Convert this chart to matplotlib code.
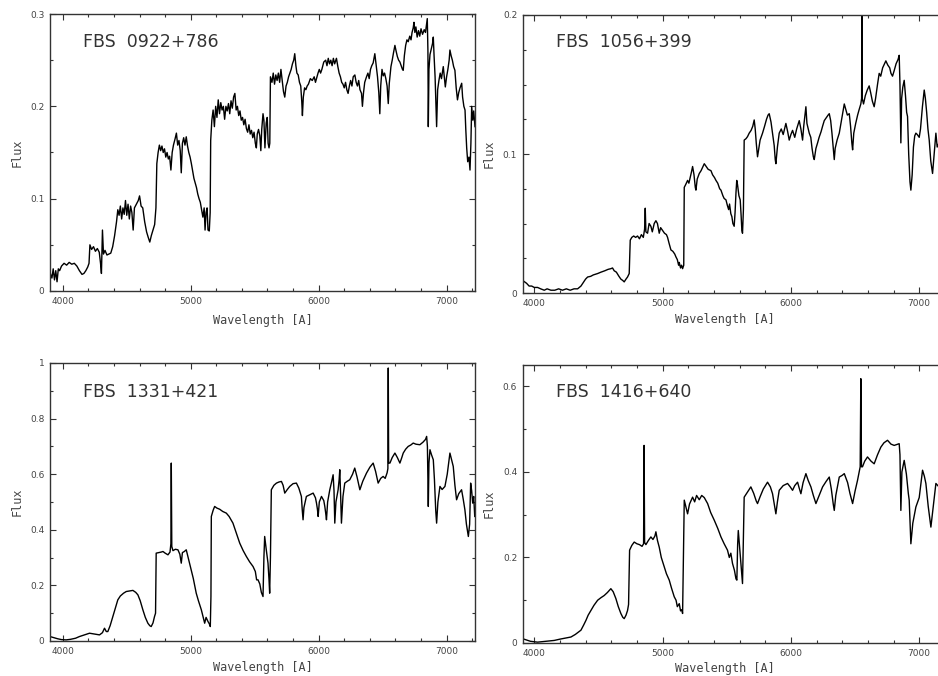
import matplotlib
matplotlib.use("Agg")
import matplotlib.pyplot as plt
from matplotlib.ticker import MultipleLocator

# ---------------- data ----------------
names = ["FBS  0922+786", "FBS  1056+399", "FBS  1331+421", "FBS  1416+640"]

wl1 = [3900,3915,3925,3935,3945,3955,3965,3975,3990,4010,4030,4050,4070,4090,4110,4130,4150,4165,4180,4195,
       4205,4212,4225,4240,4255,4270,4285,4295,4302,4310,4318,4330,4345,4360,4375,4390,4405,4420,4430,4440,
       4450,4460,4470,4480,4490,4500,4510,4520,4530,4540,4550,4560,4575,4590,4600,4612,4625,4640,4655,4668,
       4680,4692,4705,4718,4728,4735,4745,4755,4765,4775,4785,4795,4805,4815,4825,4835,4845,4855,4865,4878,
       4888,4898,4908,4918,4926,4935,4945,4955,4965,4975,4985,4995,5005,5015,5025,5035,5045,5055,5065,5075,
       5085,5095,5105,5112,5120,5128,5135,5145,5152,5156,5165,5175,5185,5195,5205,5215,5225,5235,5245,5255,
       5265,5275,5285,5295,5305,5315,5325,5335,5345,5355,5365,5375,5385,5395,5405,5415,5425,5435,5445,5455,
       5465,5475,5485,5495,5505,5513,5520,5530,5540,5548,5555,5565,5572,5580,5590,5598,5605,5612,5618,5623,
       5635,5645,5655,5665,5675,5685,5695,5705,5715,5725,5735,5745,5755,5765,5775,5785,5795,5805,5813,5822,
       5830,5840,5850,5860,5868,5873,5880,5890,5900,5910,5920,5935,5950,5965,5975,5983,5995,6005,6015,6025,
       6040,6055,6065,6075,6085,6095,6105,6115,6125,6139,6150,6160,6170,6180,6190,6200,6210,6220,6230,6240,
       6250,6260,6270,6283,6293,6303,6313,6323,6335,6342,6350,6360,6374,6385,6395,6405,6415,6426,6439,6450,
       6460,6470,6478,6485,6495,6505,6515,6525,6535,6544,6552,6565,6575,6585,6596,6605,6615,6625,6635,6645,
       6655,6661,6670,6680,6690,6700,6712,6722,6730,6739,6745,6752,6760,6770,6780,6790,6800,6812,6825,6835,
       6844,6849,6854,6857,6862,6870,6880,6890,6896,6902,6910,6916,6922,6930,6940,6950,6960,6974,6982,6990,
       7000,7010,7020,7026,7035,7045,7055,7065,7075,7085,7095,7105,7118,7125,7135,7144,7150,7157,7165,7175,
       7183,7190,7196,7205,7212,7222]
fx1 = [0.020,0.014,0.024,0.012,0.022,0.010,0.024,0.022,0.027,0.030,0.028,0.031,0.029,0.030,0.027,0.022,0.018,0.019,0.022,0.026,
       0.030,0.050,0.045,0.048,0.043,0.046,0.042,0.030,0.019,0.066,0.040,0.044,0.039,0.040,0.041,0.048,0.060,0.075,0.088,0.082,
       0.092,0.078,0.090,0.083,0.098,0.082,0.094,0.078,0.092,0.085,0.066,0.090,0.094,0.098,0.103,0.092,0.090,0.075,0.064,0.058,
       0.053,0.060,0.066,0.072,0.090,0.138,0.150,0.158,0.152,0.157,0.150,0.154,0.145,0.150,0.143,0.146,0.131,0.150,0.158,0.165,
       0.171,0.158,0.163,0.152,0.128,0.160,0.166,0.158,0.167,0.157,0.150,0.145,0.138,0.130,0.122,0.117,0.112,0.105,0.100,0.096,
       0.088,0.080,0.090,0.066,0.085,0.090,0.066,0.065,0.085,0.163,0.185,0.196,0.178,0.200,0.188,0.207,0.192,0.204,0.196,0.200,
       0.186,0.200,0.195,0.203,0.192,0.206,0.198,0.210,0.214,0.196,0.200,0.190,0.195,0.185,0.188,0.180,0.186,0.176,0.172,0.180,
       0.170,0.174,0.166,0.172,0.160,0.155,0.170,0.175,0.168,0.152,0.175,0.192,0.185,0.155,0.182,0.188,0.160,0.155,0.160,0.232,
       0.226,0.236,0.224,0.234,0.228,0.236,0.226,0.240,0.228,0.216,0.210,0.222,0.226,0.232,0.236,0.240,0.246,0.250,0.257,0.244,
       0.236,0.234,0.226,0.222,0.205,0.190,0.210,0.220,0.218,0.222,0.224,0.230,0.228,0.232,0.226,0.230,0.236,0.240,0.236,0.240,
       0.248,0.250,0.244,0.252,0.246,0.250,0.244,0.252,0.246,0.252,0.243,0.236,0.232,0.226,0.224,0.220,0.226,0.218,0.214,0.222,
       0.228,0.222,0.232,0.234,0.226,0.222,0.228,0.218,0.214,0.200,0.214,0.226,0.232,0.236,0.230,0.240,0.244,0.247,0.257,0.244,
       0.232,0.215,0.192,0.222,0.240,0.233,0.236,0.230,0.222,0.203,0.225,0.243,0.250,0.258,0.266,0.260,0.254,0.250,0.248,0.244,
       0.240,0.239,0.255,0.266,0.272,0.270,0.276,0.272,0.280,0.285,0.291,0.280,0.286,0.275,0.282,0.276,0.284,0.278,0.283,0.280,
       0.290,0.295,0.260,0.178,0.240,0.256,0.262,0.268,0.275,0.255,0.232,0.205,0.178,0.218,0.228,0.236,0.230,0.243,0.232,0.221,
       0.232,0.240,0.250,0.261,0.255,0.250,0.243,0.239,0.220,0.207,0.215,0.220,0.225,0.210,0.200,0.196,0.175,0.155,0.140,0.145,
       0.131,0.160,0.200,0.185,0.195,0.178]

wl2 = [3910,3925,3940,3960,3980,4000,4026,4050,4078,4100,4130,4160,4190,4220,4250,4280,4310,4338,4364,4385,
       4400,4416,4440,4460,4494,4520,4550,4575,4597,4610,4623,4640,4660,4675,4690,4701,4715,4727,4740,4748,
       4760,4775,4790,4805,4820,4835,4850,4860,4865,4870,4883,4895,4909,4920,4935,4948,4960,4974,4985,5000,
       5015,5030,5039,5050,5065,5080,5095,5104,5115,5125,5130,5140,5148,5156,5165,5169,5180,5195,5205,5215,
       5225,5234,5245,5255,5260,5270,5286,5300,5310,5325,5340,5355,5377,5390,5405,5416,5430,5445,5455,5470,
       5480,5494,5505,5515,5522,5532,5540,5548,5558,5565,5572,5578,5584,5595,5605,5612,5618,5623,5630,5636,
       5650,5662,5675,5690,5703,5714,5722,5730,5740,5750,5760,5779,5795,5810,5822,5831,5845,5857,5870,5878,
       5883,5895,5909,5925,5940,5961,5975,5987,6000,6013,6030,6045,6065,6078,6091,6100,6110,6117,6125,6135,
       6143,6155,6165,6175,6182,6195,6208,6220,6235,6247,6260,6275,6290,6299,6310,6320,6330,6338,6345,6360,
       6377,6390,6405,6416,6428,6440,6455,6465,6475,6481,6490,6505,6520,6532,6545,6551,6553,6556,6566,6580,
       6595,6610,6622,6635,6649,6660,6675,6688,6700,6715,6730,6740,6755,6770,6780,6792,6805,6820,6835,6844,
       6850,6857,6863,6872,6883,6893,6902,6909,6918,6928,6935,6945,6955,6965,6974,6985,7000,7010,7025,7039,
       7048,7058,7068,7078,7090,7104,7115,7130,7140,7153,7175,7220]
fx2 = [0.009,0.008,0.007,0.005,0.005,0.004,0.004,0.003,0.002,0.003,0.002,0.002,0.003,0.002,0.003,0.002,0.003,0.003,0.005,0.008,
       0.010,0.0115,0.012,0.013,0.014,0.015,0.016,0.017,0.0175,0.018,0.016,0.015,0.012,0.010,0.009,0.008,0.010,0.0115,0.014,0.038,
       0.040,0.041,0.040,0.041,0.039,0.042,0.040,0.046,0.061,0.044,0.043,0.050,0.048,0.044,0.050,0.052,0.050,0.043,0.047,0.045,
       0.043,0.042,0.040,0.036,0.031,0.030,0.028,0.026,0.024,0.020,0.022,0.018,0.020,0.0175,0.020,0.076,0.078,0.081,0.079,0.083,
       0.087,0.091,0.085,0.076,0.074,0.082,0.086,0.088,0.090,0.093,0.091,0.089,0.088,0.085,0.083,0.081,0.079,0.075,0.074,0.070,
       0.068,0.067,0.063,0.060,0.064,0.057,0.055,0.050,0.048,0.058,0.072,0.081,0.078,0.070,0.067,0.056,0.045,0.043,0.060,0.110,
       0.111,0.1125,0.115,0.117,0.120,0.1245,0.118,0.108,0.098,0.104,0.110,0.115,0.120,0.125,0.128,0.129,0.123,0.115,0.106,0.096,
       0.093,0.105,0.115,0.118,0.114,0.122,0.116,0.110,0.114,0.117,0.112,0.118,0.124,0.118,0.110,0.120,0.128,0.134,0.122,0.118,
       0.115,0.112,0.104,0.098,0.096,0.104,0.108,0.112,0.116,0.120,0.124,0.126,0.128,0.129,0.124,0.115,0.104,0.096,0.104,0.110,
       0.115,0.122,0.130,0.136,0.132,0.128,0.129,0.120,0.108,0.103,0.115,0.122,0.128,0.132,0.136,0.140,0.200,0.140,0.136,0.142,
       0.146,0.149,0.144,0.138,0.134,0.140,0.150,0.158,0.156,0.162,0.165,0.167,0.164,0.162,0.158,0.156,0.160,0.165,0.168,0.171,
       0.150,0.108,0.140,0.148,0.153,0.142,0.130,0.127,0.100,0.080,0.074,0.085,0.105,0.113,0.115,0.114,0.112,0.118,0.134,0.146,
       0.140,0.130,0.118,0.110,0.095,0.086,0.098,0.115,0.105,0.108,0.110,0.105]

wl3 = [3900,3930,3960,3990,4026,4060,4100,4130,4170,4209,4250,4287,4310,4326,4340,4352,4370,4391,4410,4430,
       4450,4475,4496,4520,4548,4570,4587,4605,4626,4645,4665,4680,4691,4705,4717,4725,4730,4750,4770,4783,
       4800,4822,4838,4845,4848,4852,4861,4880,4900,4915,4926,4935,4950,4965,4980,5004,5020,5043,5060,5083,
       5095,5109,5120,5135,5145,5153,5158,5161,5175,5187,5205,5226,5250,5278,5300,5330,5355,5383,5410,5435,
       5460,5487,5505,5515,5526,5540,5552,5565,5572,5578,5590,5604,5612,5617,5623,5630,5650,5670,5690,5709,
       5722,5735,5755,5774,5800,5826,5845,5865,5872,5878,5885,5904,5930,5957,5975,5983,5990,5996,6005,6022,
       6040,6048,6055,6061,6070,6087,6100,6113,6120,6126,6135,6152,6160,6165,6172,6178,6190,6204,6225,6243,
       6265,6282,6300,6322,6345,6374,6400,6426,6445,6465,6485,6504,6520,6535,6541,6544,6547,6557,6575,6596,
       6615,6635,6650,6661,6680,6700,6720,6739,6760,6791,6815,6835,6844,6850,6857,6862,6870,6882,6896,6905,
       6915,6922,6932,6948,6965,6987,7005,7026,7040,7052,7065,7078,7095,7117,7130,7143,7155,7170,7180,7188,
       7196,7204,7212,7220]
fx3 = [0.016,0.012,0.008,0.005,0.004,0.006,0.010,0.016,0.022,0.028,0.025,0.022,0.030,0.046,0.034,0.034,0.055,0.088,0.118,0.148,
       0.162,0.172,0.178,0.180,0.182,0.175,0.166,0.145,0.112,0.085,0.064,0.055,0.052,0.065,0.088,0.100,0.316,0.318,0.320,0.322,
       0.316,0.310,0.320,0.350,0.640,0.340,0.325,0.330,0.328,0.312,0.280,0.318,0.322,0.328,0.300,0.256,0.225,0.172,0.145,0.112,
       0.090,0.064,0.085,0.070,0.062,0.052,0.160,0.448,0.470,0.484,0.478,0.474,0.466,0.460,0.448,0.424,0.390,0.352,0.325,0.304,
       0.285,0.268,0.250,0.220,0.220,0.205,0.175,0.160,0.300,0.376,0.330,0.280,0.220,0.172,0.300,0.544,0.560,0.568,0.572,0.574,
       0.560,0.532,0.545,0.556,0.566,0.568,0.550,0.520,0.470,0.436,0.480,0.520,0.526,0.532,0.515,0.496,0.475,0.448,0.500,0.520,
       0.505,0.484,0.460,0.436,0.500,0.544,0.570,0.598,0.540,0.424,0.500,0.544,0.580,0.616,0.520,0.424,0.520,0.568,0.575,0.580,
       0.600,0.622,0.590,0.544,0.575,0.604,0.625,0.640,0.610,0.568,0.585,0.592,0.585,0.605,0.620,0.982,0.640,0.640,0.660,0.676,
       0.660,0.640,0.660,0.676,0.690,0.700,0.705,0.712,0.708,0.706,0.715,0.725,0.736,0.700,0.484,0.640,0.688,0.670,0.652,0.580,
       0.470,0.424,0.500,0.556,0.545,0.556,0.600,0.676,0.650,0.628,0.560,0.508,0.530,0.544,0.510,0.472,0.420,0.376,0.420,0.568,
       0.540,0.496,0.520,0.448]

wl4 = [3910,3940,3970,4000,4026,4060,4100,4156,4200,4250,4286,4320,4364,4385,4403,4420,4442,4465,4494,4520,
       4545,4570,4597,4615,4636,4655,4675,4690,4701,4715,4727,4735,4743,4760,4779,4800,4820,4840,4852,4856,
       4860,4870,4890,4909,4925,4940,4948,4960,4974,4990,5013,5030,5052,5070,5091,5105,5115,5130,5140,5150,
       5156,5162,5169,5182,5195,5210,5234,5250,5265,5286,5305,5325,5340,5351,5375,5403,5430,5455,5480,5506,
       5520,5532,5545,5560,5572,5579,5585,5590,5600,5610,5617,5623,5630,5636,5660,5688,5710,5730,5740,5760,
       5785,5818,5840,5857,5870,5883,5895,5909,5940,5974,5995,6013,6030,6052,6065,6078,6095,6117,6135,6156,
       6175,6195,6220,6247,6275,6299,6315,6330,6338,6350,6377,6400,6416,6430,6442,6460,6481,6500,6519,6535,
       6540,6545,6550,6558,6575,6597,6625,6649,6675,6701,6725,6753,6780,6805,6825,6844,6850,6857,6865,6883,
       6900,6915,6922,6935,6950,6974,7000,7026,7040,7052,7070,7091,7110,7130,7153,7220]
fx4 = [0.010,0.007,0.004,0.003,0.002,0.003,0.004,0.006,0.009,0.012,0.014,0.020,0.030,0.042,0.053,0.065,0.076,0.088,0.100,0.106,
       0.111,0.118,0.127,0.120,0.104,0.085,0.069,0.060,0.057,0.065,0.076,0.090,0.217,0.228,0.236,0.232,0.230,0.226,0.232,0.462,
       0.235,0.230,0.240,0.248,0.242,0.250,0.260,0.240,0.224,0.200,0.178,0.162,0.147,0.128,0.108,0.100,0.085,0.092,0.075,0.078,
       0.069,0.200,0.334,0.318,0.302,0.325,0.341,0.330,0.345,0.335,0.345,0.340,0.332,0.326,0.305,0.287,0.268,0.248,0.232,0.217,
       0.200,0.210,0.186,0.170,0.150,0.147,0.230,0.263,0.225,0.186,0.160,0.139,0.250,0.341,0.352,0.365,0.350,0.332,0.326,0.342,
       0.360,0.376,0.365,0.349,0.325,0.302,0.330,0.357,0.368,0.373,0.365,0.357,0.368,0.376,0.362,0.349,0.375,0.396,0.380,0.365,
       0.345,0.326,0.345,0.365,0.378,0.388,0.360,0.325,0.310,0.345,0.388,0.392,0.396,0.385,0.375,0.350,0.326,0.355,0.380,0.405,
       0.412,0.618,0.412,0.412,0.425,0.435,0.425,0.419,0.440,0.458,0.468,0.474,0.465,0.462,0.464,0.466,0.440,0.310,0.400,0.427,
       0.395,0.350,0.334,0.232,0.280,0.318,0.340,0.404,0.390,0.373,0.320,0.271,0.320,0.373,0.365,0.360]

waves = [wl1, wl2, wl3, wl4]
fluxes = [fx1, fx2, fx3, fx4]
ylims = [(0, 0.3), (0, 0.2), (0, 1.0), (0, 0.65)]
ymajor = [0.1, 0.1, 0.2, 0.2]
yminor = [0.05, 0.025, 0.1, 0.1]
xlims = [(3900, 7222), (3910, 7222), (3900, 7222), (3910, 7222)]

# ---------------- figure ----------------
W, H = 938, 676
fig = plt.figure(figsize=(W / 100, H / 100), dpi=100)
# axes boxes in pixels: (left, top, right, bottom)
boxes = [(50, 14, 475, 291), (522.7, 15, 947.7, 293),
         (50, 363, 475, 641), (522.7, 365, 947.7, 643)]
title_y = [0.899, 0.903, 0.896, 0.903]
xlab_x = [0.5, 0.476, 0.5, 0.476]
xlab_y = [-0.105, -0.097, -0.097, -0.09]

gray = "#444444"
for i, (l, t, r, b) in enumerate(boxes):
    ax = fig.add_axes([l / W, 1 - b / H, (r - l) / W, (b - t) / H])
    ax.plot(waves[i], fluxes[i], color="black", lw=1.0)
    ax.set_xlim(*xlims[i])
    ax.set_ylim(*ylims[i])
    ax.xaxis.set_major_locator(MultipleLocator(1000))
    ax.xaxis.set_minor_locator(MultipleLocator(200))
    ax.yaxis.set_major_locator(MultipleLocator(ymajor[i]))
    ax.yaxis.set_minor_locator(MultipleLocator(yminor[i]))
    ax.yaxis.set_major_formatter(plt.FuncFormatter(lambda v, p: "0" if abs(v) < 1e-9 else ("1" if abs(v - 1) < 1e-9 else f"{v:.1f}")))
    ax.tick_params(which="both", direction="in", top=True, right=True,
                   labelsize=6.5, labelcolor=gray, color="#333333", pad=4)
    ax.tick_params(which="major", length=4, width=0.8)
    ax.tick_params(which="minor", length=2.5, width=0.8)
    for s in ax.spines.values():
        s.set_color("#333333")
        s.set_linewidth(1.0)
    ax.set_xlabel("Wavelength [A]", family="DejaVu Sans Mono", fontsize=8.5, color=gray, va="center")
    ax.xaxis.set_label_coords(xlab_x[i], xlab_y[i])
    ax.set_ylabel("Flux", family="DejaVu Sans Mono", fontsize=8.5, color=gray, va="center")
    ax.yaxis.set_label_coords(-0.078, 0.5)
    ax.text(0.078, title_y[i], names[i], transform=ax.transAxes, fontsize=12.5,
            color="#333333", ha="left", va="center")

fig.savefig("out.png", dpi=100)
